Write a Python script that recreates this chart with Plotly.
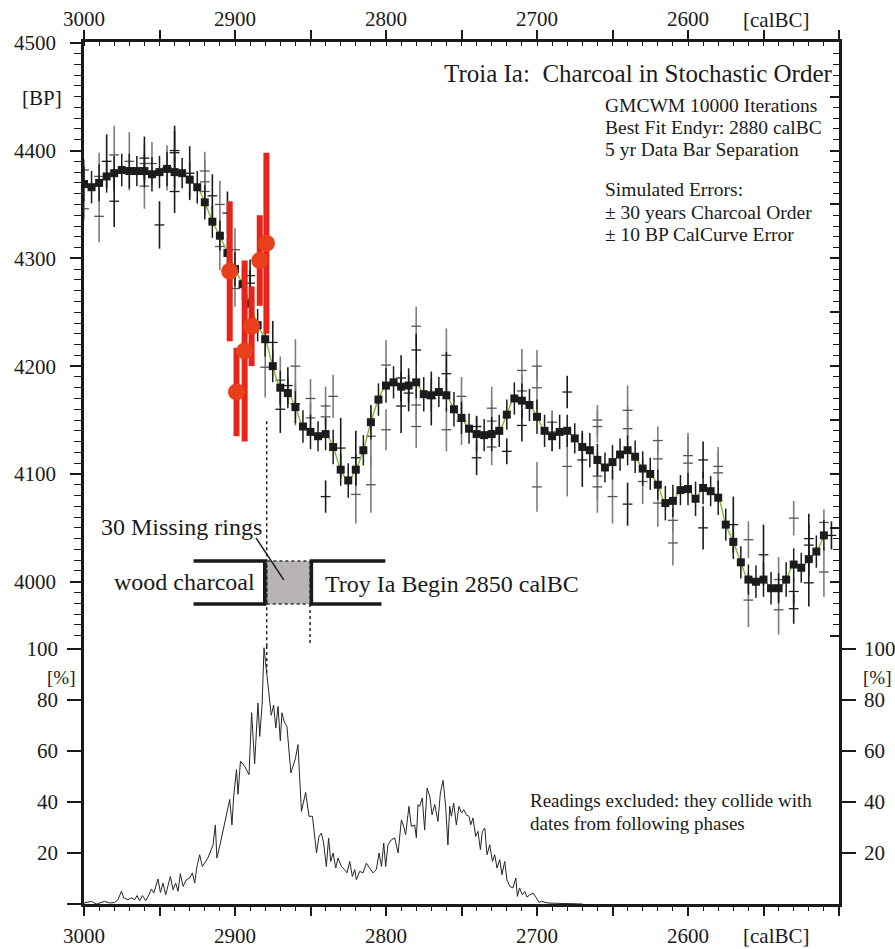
import plotly.graph_objects as go

# ---------------- data ----------------
# calibration-curve bins (5 yr separation): year calBC, BP, error
sq_years = [3000, 2995, 2990, 2985, 2980, 2975, 2970, 2965, 2960, 2955,
            2950, 2945, 2940, 2935, 2930, 2925, 2920, 2915, 2910, 2905,
            2900, 2895, 2890, 2885, 2880, 2875, 2870, 2865, 2860, 2855,
            2850, 2845, 2840, 2835, 2830, 2825, 2820, 2815, 2810, 2805,
            2800, 2795, 2790, 2785, 2780, 2775, 2770, 2765, 2760, 2755,
            2750, 2745, 2740, 2735, 2730, 2725, 2720, 2715, 2710, 2705,
            2700, 2695, 2690, 2685, 2680, 2675, 2670, 2665, 2660, 2655,
            2650, 2645, 2640, 2635, 2630, 2625, 2620, 2615, 2610, 2605,
            2600, 2595, 2590, 2585, 2580, 2575, 2570, 2565, 2560, 2555,
            2550, 2545, 2540, 2535, 2530, 2525, 2520, 2515, 2510]
sq_bp = [4369, 4366, 4370, 4376, 4379, 4382, 4381, 4381, 4381, 4378,
         4380, 4383, 4380, 4379, 4373, 4366, 4352, 4334, 4321, 4305,
         4290, 4276, 4258, 4238, 4225, 4200, 4180, 4175, 4162, 4144,
         4139, 4135, 4137, 4125, 4104, 4094, 4104, 4122, 4148, 4169,
         4182, 4185, 4181, 4182, 4185, 4174, 4173, 4176, 4173, 4160,
         4152, 4142, 4137, 4136, 4137, 4140, 4155, 4170, 4168, 4164,
         4153, 4140, 4135, 4139, 4140, 4133, 4125, 4122, 4113, 4106,
         4111, 4118, 4122, 4116, 4105, 4100, 4090, 4073, 4075, 4085,
         4086, 4077, 4087, 4084, 4078, 4053, 4037, 4018, 4002, 4000,
         4002, 3994, 3994, 4002, 4016, 4013, 4021, 4028, 4043]
sq_err = [16, 15, 17, 15, 16, 15, 16, 14, 15, 16,
          15, 16, 15, 14, 16, 15, 16, 15, 14, 15,
          16, 15, 14, 15, 16, 15, 16, 14, 15, 15,
          16, 14, 15, 16, 15, 16, 15, 14, 16, 15,
          16, 15, 14, 16, 15, 16, 15, 14, 15, 16,
          15, 14, 16, 15, 16, 15, 14, 15, 16, 15,
          16, 15, 14, 16, 15, 14, 15, 16, 15, 14,
          16, 15, 14, 15, 16, 15, 14, 16, 15, 14,
          15, 16, 15, 14, 16, 15, 16, 15, 14, 15,
          16, 15, 14, 16, 15, 14, 16, 15, 14]

# individual readings (grey bars)
grey_x = [3000, 3000, 2990, 2990, 2980, 2970, 2960, 2960, 2955, 2945,
          2920, 2920, 2920, 2910, 2910, 2900, 2900, 2880, 2870, 2860,
          2860, 2850, 2850, 2840, 2840, 2835, 2820, 2810, 2810, 2800,
          2800, 2780, 2780, 2780, 2760, 2760, 2750, 2750, 2730, 2730,
          2730, 2710, 2710, 2700, 2700, 2700, 2690, 2690, 2680, 2660,
          2660, 2660, 2660, 2650, 2640, 2640, 2630, 2620, 2620, 2620,
          2610, 2610, 2600, 2600, 2580, 2580, 2560, 2560, 2540, 2540,
          2530, 2510, 2510]
grey_bp = [4382, 4346, 4376, 4339, 4396, 4390, 4388, 4367, 4388, 4384,
           4381, 4371, 4362, 4350, 4311, 4308, 4272, 4199, 4187, 4200,
           4165, 4170, 4152, 4163, 4153, 4172, 4081, 4135, 4090, 4201,
           4141, 4237, 4164, 4144, 4210, 4141, 4172, 4149, 4161, 4149,
           4125, 4196, 4177, 4200, 4180, 4088, 4148, 4139, 4107, 4150,
           4144, 4098, 4088, 4079, 4159, 4142, 4093, 4131, 4114, 4073,
           4057, 4036, 4117, 4110, 4107, 4101, 4039, 3983, 4002, 3974,
           4059, 4055, 4009]
grey_err = [10, 10, 22, 24, 27, 27, 18, 21, 20, 21,
            18, 20, 22, 22, 22, 20, 17, 28, 22, 25,
            20, 18, 14, 18, 12, 20, 27, 28, 26, 23,
            19, 18, 15, 20, 25, 20, 18, 22, 20, 20,
            17, 20, 15, 15, 20, 23, 11, 18, 28, 14,
            15, 22, 24, 25, 23, 20, 21, 13, 18, 22,
            11, 21, 18, 28, 18, 20, 17, 25, 21, 23,
            16, 12, 23]

# individual readings (black bars)
black_x = [2985, 2980, 2960, 2950, 2940, 2940, 2940, 2930, 2915, 2905,
           2890, 2890, 2875, 2870, 2865, 2840, 2830, 2820, 2790, 2790,
           2785, 2780, 2770, 2760, 2740, 2740, 2720, 2710, 2680, 2670,
           2640, 2590, 2590, 2570, 2550, 2530, 2530, 2520, 2520, 2520,
           2505]
black_bp = [4390, 4353, 4393, 4331, 4400, 4398, 4362, 4379, 4358, 4342,
            4284, 4277, 4222, 4160, 4182, 4079, 4124, 4115, 4189, 4163,
            4175, 4215, 4170, 4193, 4144, 4115, 4121, 4145, 4176, 4113,
            4072, 4113, 4050, 4053, 4025, 3991, 3975, 4040, 4034, 3999,
            4043]
black_err = [25, 24, 20, 22, 23, 20, 20, 25, 20, 20,
             15, 12, 20, 22, 17, 15, 28, 25, 21, 25,
             17, 15, 25, 20, 10, 16, 12, 15, 15, 25,
             20, 17, 20, 26, 28, 12, 14, 23, 20, 22,
             13]

# charcoal samples (red)
red_x = [2903.5, 2899, 2893.6, 2889, 2883.6, 2879.2]
red_bp = [4288, 4176, 4214, 4237, 4298, 4314]
red_err = [65, 41, 84, 37, 42, 84]

# end-year probability distribution [%]
dist_years = [3000, 2995, 2991.8, 2986.3, 2983, 2979.7, 2977.5, 2975.2, 2973.7, 2970.9,
              2968.6, 2966.4, 2964.9, 2963.1, 2961.3, 2959.1, 2957, 2955.4, 2953.8, 2951,
              2949.4, 2947.7, 2945.9, 2944.4, 2942.8, 2941, 2939.3, 2937.7, 2936.2, 2934.4,
              2932.2, 2930, 2928.2, 2926.7, 2925.2, 2923.4, 2921.6, 2918, 2914.6, 2913,
              2912, 2910, 2907.5, 2903.5, 2902, 2900.9, 2899, 2898, 2896.4, 2893.6,
              2890.7, 2889, 2887, 2884.8, 2883.6, 2882, 2880.8, 2879.2, 2877.7, 2876,
              2874.4, 2873, 2871.5, 2870, 2868.9, 2867.5, 2865.6, 2863, 2861.6, 2860,
              2858.3, 2856, 2853.2, 2851, 2848.7, 2847.7, 2846, 2844.4, 2842.8, 2841.3,
              2839.5, 2838, 2836.6, 2835, 2833.3, 2831.8, 2829.5, 2827.4, 2825.8, 2824,
              2822.3, 2820.7, 2819.6, 2817.4, 2815.2, 2813, 2810.8, 2808.6, 2806.4, 2804.6,
              2803, 2801.5, 2800.2, 2798.7, 2796.4, 2794.2, 2792, 2789.8, 2788.3, 2787,
              2784.8, 2783.2, 2781, 2779.9, 2778.8, 2777.7, 2776, 2774.4, 2772.8, 2771,
              2769.5, 2767.7, 2765.6, 2764, 2762.2, 2760.5, 2759, 2757.8, 2756.7, 2755.2,
              2753.4, 2751.7, 2750, 2748.5, 2746.8, 2745, 2743.9, 2742.4, 2740.6, 2739.1,
              2737.5, 2736.2, 2734.6, 2733.1, 2731.3, 2729.5, 2728, 2726.5, 2724.7, 2723.2,
              2721.4, 2719.9, 2718, 2715.9, 2714, 2713, 2711.5, 2709.7, 2708.1, 2706.6,
              2704.8, 2702.6, 2700.4, 2698.7, 2697.1, 2695, 2692.7, 2688, 2682, 2675,
              2670]
dist_pct = [0.4, 1.0, 0.0, 1.0, 0.4, 0.6, 1.7, 5.0, 2.4, 1.7,
            2.4, 1.7, 3.3, 1.3, 3.3, 1.3, 3.6, 5.9, 4.3, 9.8,
            4.5, 8.2, 3.6, 6.9, 10.8, 5.6, 8.2, 5.0, 11.9, 6.9,
            9.5, 10.2, 12.2, 8.2, 14.7, 19.3, 14.7, 18.0, 23.0, 31.0,
            18.0, 23.0, 30.0, 41.0, 31.0, 42.0, 52.7, 43.0, 56.0, 54.0,
            50.7, 75.0, 55.0, 78.8, 65.7, 78.8, 100.5, 90.6, 83.4, 74.0,
            78.0, 69.0, 77.5, 64.0, 75.0, 71.6, 69.6, 51.4, 54.0, 57.0,
            62.5, 36.3, 43.8, 34.4, 34.4, 29.8, 20.0, 26.5, 27.8, 23.9,
            14.7, 25.9, 16.7, 20.0, 14.1, 18.0, 14.7, 13.5, 12.2, 16.7,
            10.8, 13.5, 9.5, 12.8, 12.2, 16.0, 14.1, 12.2, 13.5, 20.0,
            14.7, 23.9, 14.7, 23.2, 25.2, 25.9, 20.0, 33.0, 30.4, 27.2,
            38.3, 30.4, 31.0, 25.9, 39.0, 38.3, 41.6, 29.0, 45.5, 42.2,
            35.0, 39.0, 32.4, 43.5, 48.5, 38.3, 23.2, 38.3, 34.4, 39.6,
            31.0, 38.3, 35.7, 37.0, 35.0, 34.4, 31.0, 33.7, 26.5, 28.5,
            21.3, 28.5, 29.8, 19.3, 23.2, 16.7, 19.3, 14.1, 17.4, 11.5,
            16.7, 9.5, 6.9, 6.3, 10.2, 3.0, 6.3, 3.6, 4.9, 2.7,
            3.6, 4.3, 2.4, 0.6, 1.0, 0.6, 0.4, 0.3, 0.2, 0.1,
            0.0]

# axis ticks / labels
x_tickvals = [3000, 2950, 2900, 2850, 2800, 2750, 2700, 2650, 2600, 2550, 2500]
x_ticktext = ["3000", "", "2900", "", "2800", "", "2700", "", "2600", "", ""]
pct_tickvals = [0, 20, 40, 60, 80, 100]
pct_ticktext = ["", "20", "40", "60", "80", "100"]

# ---------------- layout geometry ----------------
FIG_W, FIG_H = 895, 949
L, R, T, B = 84, 56, 42, 45
W = FIG_W - L - R
H = FIG_H - T - B
FONT = "Liberation Serif"
INK = "#1a1a1a"
PX_PER_BP = 1.078
PX_PER_PCT = 2.55
bp_lo, bp_hi = 3940.5, 4500.7
split = 1 - (bp_hi - bp_lo) * PX_PER_BP / H
pct_hi = split * H / PX_PER_PCT


def ann(text, xp, yp, size, xanchor="center", yanchor="middle"):
    return dict(text=text, x=(xp - L) / W, y=(T + H - yp) / H,
                xref="paper", yref="paper", xanchor=xanchor, yanchor=yanchor,
                showarrow=False, align="left",
                font=dict(family=FONT, size=size, color=INK))


fig = go.Figure()

fig.add_trace(go.Scatter(
    x=grey_x, y=grey_bp, mode="markers", xaxis="x", yaxis="y",
    marker=dict(symbol="line-ew", size=7, color="#555555",
                line=dict(width=1.3, color="#555555")),
    error_y=dict(type="data", array=grey_err, visible=True, thickness=1.6,
                 width=0, color="#7d7d7d"),
    showlegend=False, hoverinfo="skip"))

fig.add_trace(go.Scatter(
    x=black_x, y=black_bp, mode="markers", xaxis="x", yaxis="y",
    marker=dict(symbol="line-ew", size=7, color="#1a1a1a",
                line=dict(width=1.3, color="#1a1a1a")),
    error_y=dict(type="data", array=black_err, visible=True, thickness=1.6,
                 width=0, color="#1a1a1a"),
    showlegend=False, hoverinfo="skip"))

fig.add_trace(go.Scatter(
    x=sq_years, y=sq_bp, mode="lines", xaxis="x", yaxis="y",
    line=dict(color="#7cb82e", width=1.4, shape="spline", smoothing=1.0),
    showlegend=False, hoverinfo="skip"))

fig.add_trace(go.Scatter(
    x=sq_years, y=sq_bp, mode="markers", xaxis="x", yaxis="y",
    marker=dict(symbol="square", size=8, color="#1c1c1c"),
    error_y=dict(type="data", array=sq_err, visible=True, thickness=1.5,
                 width=0, color="#1c1c1c"),
    showlegend=False, hoverinfo="skip"))

fig.add_trace(go.Scatter(
    x=red_x, y=red_bp, mode="markers", xaxis="x", yaxis="y",
    marker=dict(symbol="circle", size=17, color="#e8401c"),
    error_y=dict(type="data", array=red_err, visible=True, thickness=6,
                 width=0, color="#e6241a"),
    showlegend=False, hoverinfo="skip"))

fig.add_trace(go.Scatter(
    x=dist_years, y=dist_pct, mode="lines", xaxis="x", yaxis="y2",
    line=dict(color="#262626", width=1),
    showlegend=False, hoverinfo="skip"))

# empty traces so the mirror axes are created
fig.add_trace(go.Scatter(x=[], y=[], xaxis="x2", yaxis="y", showlegend=False))
fig.add_trace(go.Scatter(x=[], y=[], xaxis="x", yaxis="y3", showlegend=False))
fig.add_trace(go.Scatter(x=[], y=[], xaxis="x", yaxis="y4", showlegend=False))

tickfont = dict(family=FONT, size=21, color=INK)
common = dict(showgrid=False, zeroline=False, showline=True, linewidth=2.5,
              linecolor=INK, tickcolor=INK, tickfont=tickfont, automargin=False)

fig.update_layout(
    template="none",
    width=FIG_W, height=FIG_H,
    margin=dict(l=L, r=R, t=T, b=B, pad=0, autoexpand=False),
    paper_bgcolor="white", plot_bgcolor="white",
    showlegend=False,
    xaxis=dict(range=[3000, 2500], domain=[0, 1], anchor="y2", side="bottom",
               tickmode="array", tickvals=x_tickvals, ticktext=x_ticktext,
               ticks="outside", ticklen=9, tickwidth=2, ticklabelstandoff=2,
               minor=dict(tick0=3000, dtick=10, ticks="outside", ticklen=4,
                          tickwidth=1.3, tickcolor=INK),
               **common),
    xaxis2=dict(range=[3000, 2500], overlaying="x", anchor="y", side="top",
                tickmode="array", tickvals=x_tickvals, ticktext=x_ticktext,
                ticks="outside", ticklen=9, tickwidth=2, ticklabelstandoff=-4,
                minor=dict(tick0=3000, dtick=10, ticks="inside", ticklen=4,
                           tickwidth=1.3, tickcolor=INK),
                **common),
    yaxis=dict(range=[bp_lo, bp_hi], domain=[split, 1], anchor="x", side="left",
               tickmode="linear", tick0=4000, dtick=100,
               ticks="outside", ticklen=11, tickwidth=2, ticklabelstandoff=10,
               minor=dict(tick0=4000, dtick=10, ticks="outside", ticklen=7,
                          tickwidth=1.3, tickcolor=INK),
               **common),
    yaxis3=dict(range=[bp_lo, bp_hi], overlaying="y", anchor="x", side="right",
                tickmode="linear", tick0=4000, dtick=50, showticklabels=False,
                ticks="inside", ticklen=9, tickwidth=1.6,
                minor=dict(tick0=4000, dtick=10, ticks="inside", ticklen=6,
                           tickwidth=1.3, tickcolor=INK),
                **common),
    yaxis2=dict(range=[0, pct_hi], domain=[0, split], anchor="x", side="left",
                tickmode="array", tickvals=pct_tickvals, ticktext=pct_ticktext,
                ticks="outside", ticklen=14, tickwidth=2, ticklabelstandoff=5,
                **common),
    yaxis4=dict(range=[0, pct_hi], overlaying="y2", anchor="x", side="right",
                tickmode="array", tickvals=pct_tickvals[1:], ticktext=pct_ticktext[1:],
                ticks="outside", ticklen=14, tickwidth=2, ticklabelstandoff=4,
                **common),
)

line_dark = dict(color=INK, width=3.5)
shapes = [
    # grey gap (missing rings)
    dict(type="rect", xref="x", yref="y", x0=2879, x1=2850.3, y0=3979.4, y1=4019.3,
         fillcolor="#b8b4b4", line=dict(color="#333333", width=1.5, dash="dot"),
         layer="below"),
    # wood charcoal bracket
    dict(type="path", xref="x", yref="y",
         path="M 2927.5,4019.3 L 2880.3,4019.3 L 2880.3,3979.4 L 2927.5,3979.4",
         line=line_dark),
    # Troy Ia bracket
    dict(type="path", xref="x", yref="y",
         path="M 2800.4,4019.3 L 2849.4,4019.3 L 2849.4,3979.4 L 2803,3979.4",
         line=line_dark),
    # dotted guide lines
    dict(type="line", xref="x", yref="y", x0=2879, x1=2879, y0=4149, y1=bp_lo,
         line=dict(color="#222222", width=1.5, dash="dot")),
    dict(type="line", xref="x", yref="y2", x0=2879, x1=2879, y0=pct_hi, y1=90.7,
         line=dict(color="#222222", width=1.5, dash="dot")),
    dict(type="line", xref="x", yref="y", x0=2850.3, x1=2850.3, y0=3979.4, y1=bp_lo,
         line=dict(color="#222222", width=1.5, dash="dot")),
    # pointer from label
    dict(type="line", xref="x", yref="y", x0=2886, x1=2867.7, y0=4040.4, y1=4001.7,
         line=dict(color=INK, width=1.5)),
]
fig.update_layout(shapes=shapes)

annotations = [
    ann("Troia Ia:\u00a0 Charcoal in Stochastic Order", 835, 73, 25, xanchor="right"),
    ann("GMCWM 10000 Iterations", 603, 105, 19.5, xanchor="left"),
    ann("Best Fit Endyr: 2880 calBC", 603, 127, 19.5, xanchor="left"),
    ann("5 yr Data Bar Separation", 603, 150, 19.5, xanchor="left"),
    ann("Simulated Errors:", 603, 189, 19.5, xanchor="left"),
    ann("\u00b1 30 years Charcoal Order", 603, 212, 19.5, xanchor="left"),
    ann("\u00b1 10 BP CalCurve Error", 603, 235, 19.5, xanchor="left"),
    ann("[BP]", 42, 98, 21),
    ann("[calBC]", 776, 20, 21),
    ann("[calBC]", 776, 936, 21),
    ann("[%]", 61, 677, 19),
    ann("[%]", 877, 677, 19),
    ann("30 Missing rings", 181, 527, 24),
    ann("wood charcoal", 184, 582, 24),
    ann("Troy Ia Begin 2850 calBC", 323, 584, 24, xanchor="left"),
    ann("Readings excluded: they collide with", 528, 800, 19, xanchor="left"),
    ann("dates from following phases", 528, 823, 19, xanchor="left"),
]
fig.update_layout(annotations=annotations)

fig.write_html("out.html")
